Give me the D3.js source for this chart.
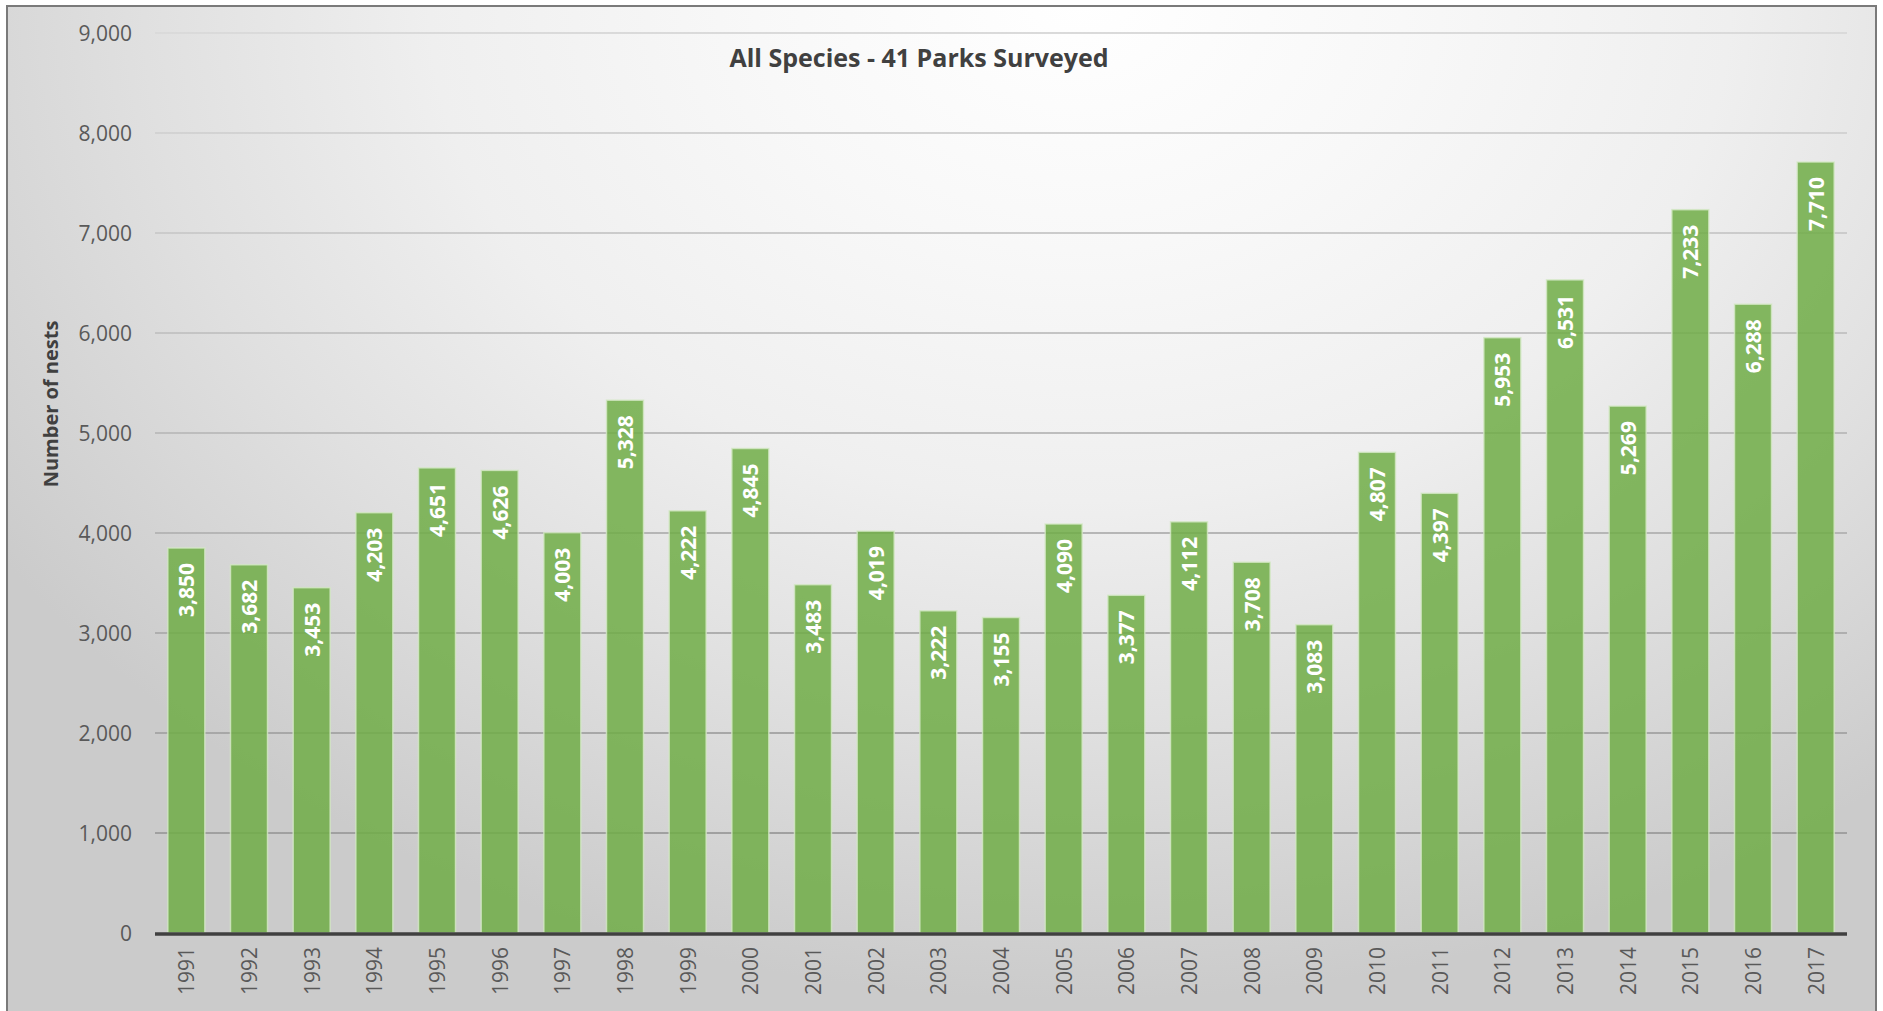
<!DOCTYPE html>
<html>
<head>
<meta charset="utf-8">
<script src="https://cdn.jsdelivr.net/npm/d3@7"></script>
<style>
  html, body { margin: 0; padding: 0; background: #ffffff; }
  svg { display: block; }
  text { font-family: "Open Sans", "Noto Sans", sans-serif; }
</style>
</head>
<body>
<svg id="chart" width="1883" height="1011"></svg>
<script>
const years = ["1991","1992","1993","1994","1995","1996","1997","1998","1999","2000",
  "2001","2002","2003","2004","2005","2006","2007","2008","2009","2010",
  "2011","2012","2013","2014","2015","2016","2017"];
const nests = [3850,3682,3453,4203,4651,4626,4003,5328,4222,4845,
  3483,4019,3222,3155,4090,3377,4112,3708,3083,4807,
  4397,5953,6531,5269,7233,6288,7710];
const yTicks = [0,1000,2000,3000,4000,5000,6000,7000,8000,9000];
const titleText = "All Species - 41 Parks Surveyed";
const yLabelText = "Number of nests";

const svg = d3.select("#chart");
const defs = svg.append("defs");

const bg = defs.append("radialGradient").attr("id", "bg")
  .attr("gradientUnits", "userSpaceOnUse")
  .attr("cx", 1080).attr("cy", 0).attr("r", 1000)
  .attr("gradientTransform", "translate(1080,0) scale(1.3,1) translate(-1080,0)");
[[0, "#ffffff"], [0.25, "#f8f8f8"], [0.5, "#efefef"], [0.72, "#e0e0e0"], [0.88, "#d4d4d4"], [1, "#cbcbcb"]]
  .forEach(([o, c]) => bg.append("stop").attr("offset", o).attr("stop-color", c));

const gg = defs.append("linearGradient").attr("id", "grid")
  .attr("gradientUnits", "userSpaceOnUse")
  .attr("x1", 0).attr("y1", 30).attr("x2", 0).attr("y2", 935);
gg.append("stop").attr("offset", 0).attr("stop-color", "#dadada");
gg.append("stop").attr("offset", 1).attr("stop-color", "#999999");

// chart area
svg.append("rect").attr("x", 7).attr("y", 6).attr("width", 1869).attr("height", 1020)
  .attr("fill", "url(#bg)").attr("stroke", "#7a7a7a").attr("stroke-width", 2);

const plotLeft = 155, plotRight = 1847, plotTop = 33, plotBottom = 933;

const y = d3.scaleLinear().domain([0, 9000]).range([plotBottom, plotTop]);
const x = d3.scaleBand().domain(years).range([plotLeft, plotRight]).paddingInner(0.41).paddingOuter(0.205);

// gridlines
svg.append("g").selectAll("line").data(yTicks.filter(d => d > 0)).join("line")
  .attr("x1", plotLeft).attr("x2", plotRight)
  .attr("y1", d => y(d)).attr("y2", d => y(d))
  .attr("stroke", "url(#grid)").attr("stroke-width", 2);

// y tick labels
svg.append("g").selectAll("text").data(yTicks).join("text")
  .attr("x", 132).attr("y", d => y(d))
  .attr("text-anchor", "end").attr("dominant-baseline", "central")
  .attr("font-size", 21).attr("fill", "#595959")
  .text(d => d3.format(",")(d));

// bars
svg.append("g").selectAll("rect").data(nests).join("rect")
  .attr("x", (d, i) => x(years[i]))
  .attr("y", d => y(d))
  .attr("width", x.bandwidth())
  .attr("height", d => plotBottom - y(d))
  .attr("fill", "#70ad47").attr("fill-opacity", 0.85)
  .attr("stroke", "#d4e8c6").attr("stroke-opacity", 0.8).attr("stroke-width", 1.5);

// bar labels
svg.append("g").selectAll("text").data(nests).join("text")
  .attr("transform", (d, i) => `translate(${x(years[i]) + x.bandwidth() / 2},${y(d) + 15}) rotate(-90)`)
  .attr("text-anchor", "end").attr("dominant-baseline", "central")
  .attr("font-size", 21).attr("font-weight", "bold").attr("fill", "#ffffff")
  .text(d => d3.format(",")(d));

// x axis line
svg.append("line").attr("x1", plotLeft).attr("x2", plotRight)
  .attr("y1", plotBottom + 1).attr("y2", plotBottom + 1)
  .attr("stroke", "#404040").attr("stroke-width", 3.5);

// x labels
svg.append("g").selectAll("text").data(years).join("text")
  .attr("transform", d => `translate(${x(d) + x.bandwidth() / 2},947) rotate(-90)`)
  .attr("text-anchor", "end").attr("dominant-baseline", "central")
  .attr("font-size", 21).attr("fill", "#595959")
  .text(d => d);

// title
svg.append("text").attr("x", 919).attr("y", 67)
  .attr("text-anchor", "middle")
  .attr("font-size", 25).attr("font-weight", "bold").attr("fill", "#404040")
  .text(titleText);

// y axis label
svg.append("text").attr("transform", "translate(58,404) rotate(-90)")
  .attr("text-anchor", "middle")
  .attr("font-size", 20).attr("font-weight", "bold").attr("fill", "#404040")
  .text(yLabelText);
</script>
</body>
</html>
